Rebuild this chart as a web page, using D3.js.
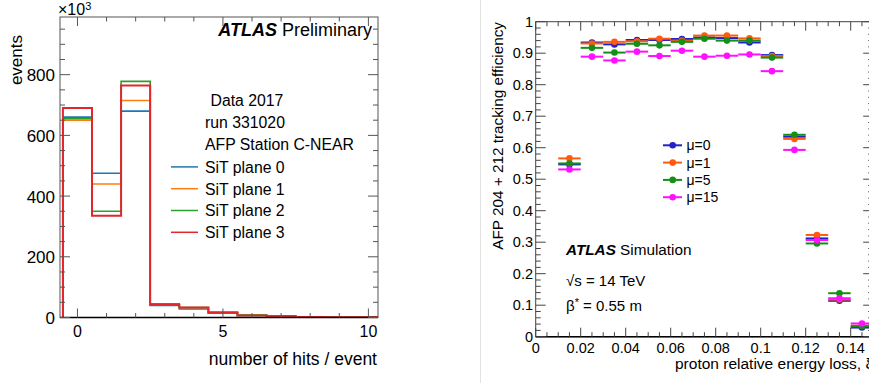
<!DOCTYPE html>
<html>
<head>
<meta charset="utf-8">
<script src="https://cdn.jsdelivr.net/npm/d3@7"></script>
<style>
  body { margin: 0; background: #fff; }
  text { font-family: "Liberation Sans", Arial, sans-serif; fill: #000; }
</style>
</head>
<body>
<div id="chart"></div>
<script>
// ---- left panel: hits per event (x10^3 events) ----
var hitBins = [0, 1, 2, 3, 4, 5, 6, 7, 8, 9, 10];
var plane0 = [660, 475, 680, 40, 28, 14, 7, 4, 2, 1, 1];
var plane1 = [650, 440, 715, 43, 32, 16, 8, 5, 2, 1, 1];
var plane2 = [655, 350, 778, 45, 33, 18, 8, 5, 2, 1, 1];
var plane3 = [690, 335, 764, 42, 33, 16, 7, 4, 2, 1, 1];
var planeNames = ["SiT plane 0", "SiT plane 1", "SiT plane 2", "SiT plane 3"];
var planeColors = ["#1f77b4", "#ff7f0e", "#2ca02c", "#e3262b"];
var leftInfo = ["Data 2017", "run 331020", "AFP Station C-NEAR"];
var leftYTicks = [0, 200, 400, 600, 800];
var leftXTicks = [0, 5, 10];

// ---- right panel: tracking efficiency vs xi ----
var xi = [0.015, 0.025, 0.035, 0.045, 0.055, 0.065, 0.075, 0.085, 0.095, 0.105, 0.115, 0.125, 0.135, 0.145];
var mu0  = [0.547, 0.934, 0.928, 0.942, 0.942, 0.945, 0.950, 0.948, 0.934, 0.894, 0.635, 0.312, 0.114, 0.029];
var mu1  = [0.566, 0.931, 0.936, 0.938, 0.946, 0.940, 0.956, 0.956, 0.947, 0.891, 0.628, 0.323, 0.118, 0.035];
var mu5  = [0.550, 0.917, 0.902, 0.930, 0.925, 0.936, 0.946, 0.940, 0.940, 0.886, 0.641, 0.296, 0.138, 0.033];
var mu15 = [0.531, 0.889, 0.877, 0.905, 0.891, 0.908, 0.889, 0.892, 0.896, 0.843, 0.593, 0.307, 0.122, 0.042];
var muNames = ["\u03bc=0", "\u03bc=1", "\u03bc=5", "\u03bc=15"];
var muColors = ["#2222c8", "#ff5a10", "#14901a", "#ff10ff"];
var rightYTicks = [0, 0.1, 0.2, 0.3, 0.4, 0.5, 0.6, 0.7, 0.8, 0.9, 1];
var rightXTicks = [0, 0.02, 0.04, 0.06, 0.08, 0.1, 0.12, 0.14];
var binHalf = 0.005;

var svg = d3.select("#chart").append("svg").attr("width", 869).attr("height", 383);
svg.append("rect").attr("width", 869).attr("height", 383).attr("fill", "#fff");

// separator between the two figures
svg.append("line").attr("x1", 480.5).attr("x2", 480.5).attr("y1", 0).attr("y2", 383)
    .attr("stroke", "#e2e2e2").attr("stroke-width", 1);

// ================= LEFT =================
var L = {left: 60, right: 378, top: 17, bottom: 317.5};
var xL = d3.scaleLinear().domain([-0.6, 10.33]).range([L.left, L.right]);
var yL = d3.scaleLinear().domain([0, 990]).range([L.bottom, L.top]);

var gl = svg.append("g");
svg.append("clipPath").attr("id", "clipL").append("rect")
    .attr("x", L.left).attr("y", L.top).attr("width", L.right - L.left).attr("height", L.bottom - L.top);

// step histograms
var planes = [plane0, plane1, plane2, plane3];
var hl = gl.append("g").attr("clip-path", "url(#clipL)");
planes.forEach(function(vals, i) {
    var pts = [[xL(hitBins[0] - 0.5), yL(0)]];
    vals.forEach(function(v, j) {
        pts.push([xL(hitBins[j] - 0.5), yL(v)]);
        pts.push([xL(hitBins[j] + 0.5), yL(v)]);
    });
    hl.append("path")
        .attr("d", d3.line()(pts))
        .attr("fill", "none")
        .attr("stroke", planeColors[i])
        .attr("stroke-width", i == 3 ? 2 : 1.6);
});

// frame
gl.append("rect").attr("x", L.left).attr("y", L.top).attr("width", L.right - L.left).attr("height", L.bottom - L.top)
    .attr("fill", "none").attr("stroke", "#555").attr("stroke-width", 1);
gl.append("line").attr("x1", L.left).attr("x2", L.right).attr("y1", L.bottom).attr("y2", L.bottom)
    .attr("stroke", "#000").attr("stroke-width", 1.5);

// y ticks (inward, both sides)
d3.range(0, 1000, 50).forEach(function(v) {
    var maj = v % 200 == 0, len = maj ? 10 : 5;
    gl.append("line").attr("x1", L.left).attr("x2", L.left + len).attr("y1", yL(v)).attr("y2", yL(v))
        .attr("stroke", "#555");
    gl.append("line").attr("x1", L.right).attr("x2", L.right - len).attr("y1", yL(v)).attr("y2", yL(v))
        .attr("stroke", "#555");
});
// x ticks
d3.range(0, 11, 1).forEach(function(v) {
    var maj = v % 5 == 0, len = maj ? 9 : 4.5;
    gl.append("line").attr("x1", xL(v)).attr("x2", xL(v)).attr("y1", L.bottom).attr("y2", L.bottom - len)
        .attr("stroke", "#555");
    gl.append("line").attr("x1", xL(v)).attr("x2", xL(v)).attr("y1", L.top).attr("y2", L.top + len)
        .attr("stroke", "#555");
});
leftYTicks.forEach(function(v) {
    gl.append("text").attr("x", L.left - 5).attr("y", yL(v) + 6.5)
        .attr("text-anchor", "end").style("font-size", "17px").text(v);
});
leftXTicks.forEach(function(v) {
    gl.append("text").attr("x", xL(v)).attr("y", 337)
        .attr("text-anchor", "middle").style("font-size", "16px").text(v);
});
var xt = gl.append("text").attr("x", 58).attr("y", 15).style("font-size", "16px");
xt.append("tspan").text("\u00d710");
xt.append("tspan").attr("dy", -5).style("font-size", "11px").text("3");

gl.append("text").attr("transform", "translate(22,35) rotate(-90)").attr("text-anchor", "end")
    .style("font-size", "17px").text("events");
gl.append("text").attr("x", 377).attr("y", 365).attr("text-anchor", "end")
    .style("font-size", "17.5px").text("number of hits / event");

var at = gl.append("text").attr("x", 372).attr("y", 36).attr("text-anchor", "end").style("font-size", "18px");
at.append("tspan").style("font-weight", "bold").style("font-style", "italic").text("ATLAS");
at.append("tspan").text(" Preliminary");

leftInfo.forEach(function(s, i) {
    gl.append("text").attr("x", i == 0 ? 210.5 : 205).attr("y", 106 + i * 22.2)
        .style("font-size", "15.8px").text(s);
});
planeNames.forEach(function(s, i) {
    var y = 172.7 + i * 21.8;
    gl.append("line").attr("x1", 171).attr("x2", 198).attr("y1", y - 5.8).attr("y2", y - 5.8)
        .attr("stroke", planeColors[i]).attr("stroke-width", 1.5);
    gl.append("text").attr("x", 205).attr("y", y).style("font-size", "15.8px").text(s);
});

// ================= RIGHT =================
var R = {left: 535.7, right: 873.2, top: 21.7, bottom: 336.7};
var xR = d3.scaleLinear().domain([0, 0.15]).range([R.left, R.right]);
var yR = d3.scaleLinear().domain([0, 1]).range([R.bottom, R.top]);
var gr = svg.append("g");

gr.append("rect").attr("x", R.left).attr("y", R.top).attr("width", R.right - R.left).attr("height", R.bottom - R.top)
    .attr("fill", "none").attr("stroke", "#444").attr("stroke-width", 1);
gr.append("line").attr("x1", R.left).attr("x2", R.right).attr("y1", R.bottom).attr("y2", R.bottom)
    .attr("stroke", "#000").attr("stroke-width", 1.5);

d3.range(0, 51).forEach(function(k) {
    var v = k * 0.02, maj = k % 5 == 0, len = maj ? 10 : 5;
    gr.append("line").attr("x1", R.left).attr("x2", R.left + len).attr("y1", yR(v)).attr("y2", yR(v)).attr("stroke", "#444");
    gr.append("line").attr("x1", R.right).attr("x2", R.right - len).attr("y1", yR(v)).attr("y2", yR(v)).attr("stroke", "#444");
});
d3.range(0, 31).forEach(function(k) {
    var v = k * 0.005, maj = k % 4 == 0, len = maj ? 9 : 4.5;
    gr.append("line").attr("x1", xR(v)).attr("x2", xR(v)).attr("y1", R.bottom).attr("y2", R.bottom - len).attr("stroke", "#444");
    gr.append("line").attr("x1", xR(v)).attr("x2", xR(v)).attr("y1", R.top).attr("y2", R.top + len).attr("stroke", "#444");
});
rightYTicks.forEach(function(v) {
    gr.append("text").attr("x", 533).attr("y", yR(v) + 5)
        .attr("text-anchor", "end").style("font-size", "14.5px").text(v);
});
rightXTicks.forEach(function(v) {
    gr.append("text").attr("x", xR(v)).attr("y", 352.5)
        .attr("text-anchor", "middle").style("font-size", "14.5px").text(v);
});
gr.append("text").attr("transform", "translate(503,22) rotate(-90)").attr("text-anchor", "end")
    .style("font-size", "15.3px").text("AFP 204 + 212 tracking efficiency");
gr.append("text").attr("x", 675).attr("y", 369)
    .style("font-size", "15.5px").text("proton relative energy loss, \u03be");

// points with horizontal bin-width error bars
var series = [mu0, mu1, mu5, mu15];
series.forEach(function(vals, i) {
    var g = gr.append("g");
    g.selectAll("line").data(vals).enter().append("line")
        .attr("x1", function(d, j) { return xR(xi[j] - binHalf); })
        .attr("x2", function(d, j) { return xR(xi[j] + binHalf); })
        .attr("y1", function(d) { return yR(d); })
        .attr("y2", function(d) { return yR(d); })
        .attr("stroke", muColors[i]).attr("stroke-width", 2);
    g.selectAll("circle").data(vals).enter().append("circle")
        .attr("cx", function(d, j) { return xR(xi[j]); })
        .attr("cy", function(d) { return yR(d); })
        .attr("r", 3.3).attr("fill", muColors[i]);
});

// legend
muNames.forEach(function(s, i) {
    var y = 145.3 + i * 17.3;
    gr.append("line").attr("x1", 663).attr("x2", 682).attr("y1", y).attr("y2", y)
        .attr("stroke", muColors[i]).attr("stroke-width", 2);
    gr.append("circle").attr("cx", 672.7).attr("cy", y).attr("r", 3.3).attr("fill", muColors[i]);
    gr.append("text").attr("x", 686.5).attr("y", y + 5).style("font-size", "14px").text(s);
});

var as = gr.append("text").attr("x", 566).attr("y", 255).style("font-size", "15.3px");
as.append("tspan").style("font-weight", "bold").style("font-style", "italic").text("ATLAS");
as.append("tspan").text(" Simulation");
gr.append("text").attr("x", 566).attr("y", 286).style("font-size", "15px").text("\u221as = 14 TeV");
var bt = gr.append("text").attr("x", 566).attr("y", 310.7).style("font-size", "15px");
bt.append("tspan").text("\u03b2");
bt.append("tspan").attr("dy", -5).style("font-size", "11px").text("*");
bt.append("tspan").attr("dy", 5).text(" = 0.55 m");
</script>
</body>
</html>
